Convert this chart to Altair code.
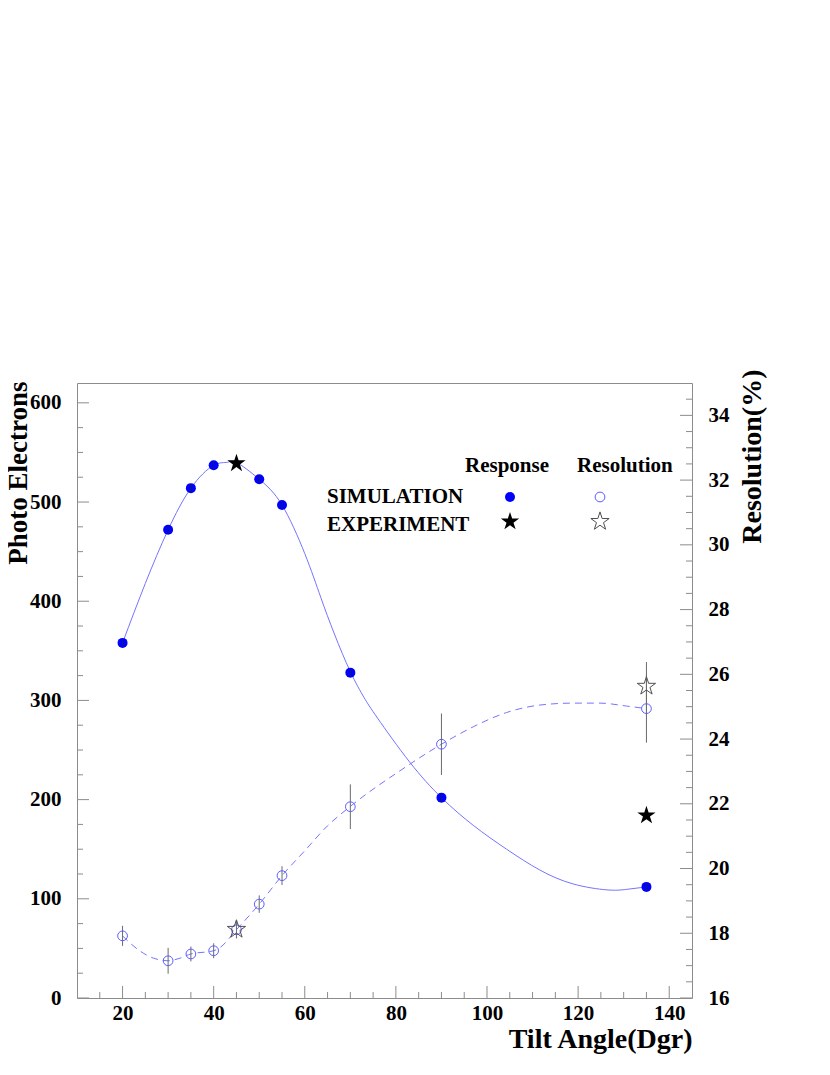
import altair as alt
import pandas as pd

# ---- data ----
sim_angles = [20, 30, 35, 40, 50, 55, 70, 90, 135]
sim_response = [358, 472, 514, 537, 523, 497, 328, 202, 112]
sim_response_err = [4, 4, 4, 4, 4, 4, 4, 4, 4]

res_angles = [20, 30, 35, 40, 45, 50, 55, 70, 90, 135]
sim_resolution = [17.92, 17.15, 17.36, 17.46, 18.11, 18.90, 19.78, 21.91, 23.84, 24.94]
sim_resolution_err = [0.31, 0.40, 0.23, 0.23, 0.27, 0.27, 0.29, 0.69, 0.95, 1.05]

exp_angles = [45, 135]
exp_response = [539, 184]
exp_resolution = [18.12, 25.63]
exp_resolution_err = [0.0, 0.75]

# smooth curves
resp_curve_x = [20, 25, 30, 35, 40, 43, 45, 50, 55, 60, 63.5, 66.5, 70, 73, 76, 83, 90, 97,
                104.3, 111.6, 118.9, 126.3, 130.6, 135]
resp_curve_y = [358, 418, 472, 514, 537, 540, 540, 523, 497, 448, 404, 367, 329, 303, 282,
                238, 202, 174, 150, 129, 115, 109, 109.5, 112]
reso_curve_x = [20, 21.7, 26.8, 30, 32.6, 35, 40, 41.4, 45, 50, 55, 60, 65, 70, 80.9,
                90, 97, 104.3, 111.6, 118.9, 124.8, 130.6, 135]
reso_curve_y = [17.92, 17.69, 17.23, 17.15, 17.23, 17.36, 17.46, 17.56, 18.11, 18.90,
                19.78, 20.55, 21.32, 21.92, 23.02, 23.84, 24.38, 24.82, 25.05, 25.11,
                25.11, 25.02, 24.94]

# axis ticks
x_major = [20, 40, 60, 80, 100, 120, 140]
x_minor = [15, 25, 30, 35, 45, 50, 55, 65, 70, 75, 85, 90, 95, 105, 110, 115, 125, 130, 135]
yl_major = [0, 100, 200, 300, 400, 500, 600]
yl_minor = [v for v in range(25, 620, 25) if v % 100 != 0]
yr_major = [16, 18, 20, 22, 24, 26, 28, 30, 32, 34]
yr_minor = [16.5 + 0.5 * i for i in range(37) if (16.5 + 0.5 * i) % 2 != 0]

# ---- build tables ----
df_resp = pd.DataFrame({"x": sim_angles, "y": sim_response,
                        "lo": [a - b for a, b in zip(sim_response, sim_response_err)],
                        "hi": [a + b for a, b in zip(sim_response, sim_response_err)]})
df_reso = pd.DataFrame({"x": res_angles, "y": sim_resolution,
                        "lo": [a - b for a, b in zip(sim_resolution, sim_resolution_err)],
                        "hi": [a + b for a, b in zip(sim_resolution, sim_resolution_err)]})
df_exp = pd.DataFrame({"x": exp_angles, "r": exp_response, "s": exp_resolution,
                       "lo": [a - b for a, b in zip(exp_resolution, exp_resolution_err)],
                       "hi": [a + b for a, b in zip(exp_resolution, exp_resolution_err)]})
df_rc = pd.DataFrame({"x": resp_curve_x, "y": resp_curve_y})
df_sc = pd.DataFrame({"x": reso_curve_x, "y": reso_curve_y})

W, H = 615, 615
FONT = "Liberation Serif"
STAR = ("M0,-1L0.2245,-0.309L0.9511,-0.309L0.3633,0.118L0.5878,0.809L0,0.382"
        "L-0.5878,0.809L-0.3633,0.118L-0.9511,-0.309L-0.2245,-0.309Z")
AXC = "#8c8c8c"
LINEC = "#7474ff"
DOTC = "#0000ff"
OPENC = "#5c5cff"

common_axis = dict(ticks=False, tickSize=0, domain=False, grid=False,
                   labelFont=FONT, labelFontSize=21, labelFontWeight="bold",
                   labelColor="black", titleFont=FONT,
                   titleFontWeight="bold", titleColor="black")

xscale = alt.Scale(domain=[10, 145], nice=False, zero=False)
xaxis = alt.Axis(values=x_major, title="Tilt Angle(Dgr)", labelPadding=4,
                 titleX=W, titleY=49, titleAlign="right", titleBaseline="alphabetic",
                 titleFontSize=28, **common_axis)
lscale = alt.Scale(domain=[0, 620], nice=False, zero=False)
rscale = alt.Scale(domain=[16, 35], nice=False, zero=False)
laxis = alt.Axis(values=yl_major, title="Photo Electrons", labelPadding=16, titleAngle=270,
                 titleX=-50.5, titleY=-2, titleAlign="right", titleBaseline="alphabetic",
                 titleFontSize=27, **common_axis)
raxis = alt.Axis(orient="right", values=yr_major, title="Resolution(%)", labelPadding=16,
                 titleAngle=270, titleX=68, titleY=-14, titleAlign="right",
                 titleBaseline="alphabetic", titleFontSize=28, **common_axis)


def X(f="x"):
    return alt.X(f"{f}:Q", scale=xscale, axis=xaxis)


def YL(f, axis=None):
    return alt.Y(f"{f}:Q", scale=lscale, axis=axis)


def YR(f, axis=None):
    return alt.Y(f"{f}:Q", scale=rscale, axis=axis)


resp_line = alt.Chart(df_rc).mark_line(color=LINEC, strokeWidth=1, interpolate="natural").encode(
    x=X(), y=YL("y", laxis))
reso_line = alt.Chart(df_sc).mark_line(color=LINEC, strokeWidth=1, strokeDash=[7, 5],
                                       interpolate="monotone").encode(
    x=X(), y=YR("y", raxis))
reso_err = alt.Chart(df_reso).mark_rule(color="#6a6a6a", strokeWidth=1).encode(
    x=X(), y=YR("lo"), y2="hi:Q")
exp_err = alt.Chart(df_exp).mark_rule(color="#6a6a6a", strokeWidth=1).encode(
    x=X(), y=YR("lo"), y2="hi:Q")
reso_pts = alt.Chart(df_reso).mark_point(shape="circle", filled=False, stroke=OPENC,
                                         strokeWidth=1, size=95, opacity=1).encode(
    x=X(), y=YR("y"))
resp_pts = alt.Chart(df_resp).mark_point(shape="circle", filled=True, color=DOTC,
                                         size=100, opacity=1).encode(x=X(), y=YL("y"))
resp_err = alt.Chart(df_resp).mark_rule(color="#202040", strokeWidth=0.8).encode(
    x=X(), y=YL("lo"), y2="hi:Q")
exp_r = alt.Chart(df_exp).mark_point(shape=STAR, filled=True, color="black",
                                     size=370, opacity=1).encode(x=X(), y=YL("r"))
exp_s = alt.Chart(df_exp).mark_point(shape=STAR, filled=False, stroke="#505050",
                                     strokeWidth=1, size=370, opacity=1).encode(
    x=X(), y=YR("s"))

# inward tick marks
t_xM = alt.Chart(pd.DataFrame({"x": x_major})).mark_rule(color=AXC).encode(
    x=X(), y=alt.value(H), y2=alt.value(H - 12))
t_xm = alt.Chart(pd.DataFrame({"x": x_minor})).mark_rule(color=AXC).encode(
    x=X(), y=alt.value(H), y2=alt.value(H - 6))
t_lM = alt.Chart(pd.DataFrame({"v": yl_major})).mark_rule(color=AXC).encode(
    y=YL("v"), x=alt.value(0), x2=alt.value(12))
t_lm = alt.Chart(pd.DataFrame({"v": yl_minor})).mark_rule(color=AXC).encode(
    y=YL("v"), x=alt.value(0), x2=alt.value(6))
t_rM = alt.Chart(pd.DataFrame({"v": yr_major})).mark_rule(color=AXC).encode(
    y=YR("v"), x=alt.value(W), x2=alt.value(W - 12))
t_rm = alt.Chart(pd.DataFrame({"v": yr_minor})).mark_rule(color=AXC).encode(
    y=YR("v"), x=alt.value(W), x2=alt.value(W - 6))

# legend
legend_labels = ["Response", "Resolution", "SIMULATION", "EXPERIMENT"]
legend_pos = [(388, 89), (500, 89), (250, 120), (250, 148)]
legend_layers = []
for lab, (px, py) in zip(legend_labels, legend_pos):
    legend_layers.append(
        alt.Chart(pd.DataFrame({"t": [lab]})).mark_text(
            font=FONT, fontWeight="bold", fontSize=21, align="left",
            baseline="alphabetic", color="black").encode(
            text="t:N", x=alt.value(px), y=alt.value(py)))
one = pd.DataFrame({"k": [0]})
legend_layers += [
    alt.Chart(one).mark_point(shape="circle", filled=True, color=DOTC, size=100, opacity=1)
    .encode(x=alt.value(433), y=alt.value(114)),
    alt.Chart(one).mark_point(shape="circle", filled=False, stroke=OPENC, strokeWidth=1,
                              size=95, opacity=1)
    .encode(x=alt.value(523), y=alt.value(114)),
    alt.Chart(one).mark_point(shape=STAR, filled=True, color="black", size=370, opacity=1)
    .encode(x=alt.value(433), y=alt.value(138.5)),
    alt.Chart(one).mark_point(shape=STAR, filled=False, stroke="#505050", strokeWidth=1,
                              size=370, opacity=1)
    .encode(x=alt.value(523), y=alt.value(138.5)),
]

chart = alt.layer(
    resp_line, reso_line, reso_err, exp_err, reso_pts, resp_pts, resp_err, exp_r, exp_s,
    t_xM, t_xm, t_lM, t_lm, t_rM, t_rm, *legend_layers
).resolve_scale(y="independent").properties(
    width=W, height=H,
    padding={"left": 69, "top": 375, "right": 130, "bottom": 70},
    autosize=alt.AutoSizeParams(type="none"),
    background="white",
).configure_view(
    stroke=AXC, strokeWidth=1
)

chart.save("out.html", embed_options={"renderer": "svg", "actions": False})
